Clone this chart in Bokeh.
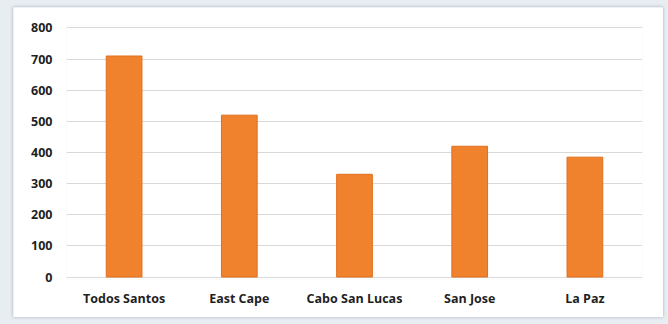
from bokeh.plotting import figure
from bokeh.models import Range1d, ColumnDataSource, FixedTicker
from bokeh.layouts import column
from bokeh.embed import file_html
from bokeh.resources import INLINE

categories = ["Todos Santos", "East Cape", "Cabo San Lucas", "San Jose", "La Paz"]
values = [710, 520, 330, 420, 385]
y_ticks = [0, 100, 200, 300, 400, 500, 600, 700, 800]

src = ColumnDataSource(dict(cat=categories, val=values))

p = figure(x_range=categories, y_range=Range1d(-8, 808), width=650, height=310,
           output_backend="svg", toolbar_location=None,
           min_border_left=53, min_border_right=21, min_border_top=18, min_border_bottom=38)
p.margin = (7, 5, 7, 13)
p.styles = {"box-shadow": "0 0 3px #a8b0b8"}

p.vbar(x="cat", top="val", width=0.31, source=src, fill_color="#f0822e",
       line_color="#e06f1d", line_width=1)

p.background_fill_color = "white"
p.border_fill_color = "white"
p.outline_line_color = None

p.yaxis.ticker = FixedTicker(ticks=y_ticks)
p.ygrid.ticker = FixedTicker(ticks=y_ticks)
p.ygrid.grid_line_color = "#d9d9d9"
p.ygrid.grid_line_width = 1
p.xgrid.grid_line_color = None

for ax in (p.xaxis, p.yaxis):
    ax.axis_line_color = None
    ax.major_tick_line_color = None
    ax.minor_tick_line_color = None
    ax.major_tick_out = 0
    ax.major_tick_in = 0
    ax.major_label_text_font = "Open Sans"
    ax.major_label_text_font_style = "bold"
    ax.major_label_text_color = "#1f1f1f"

p.yaxis.major_label_text_font_size = "12.5px"
p.yaxis.major_label_standoff = 14
p.xaxis.major_label_text_font_size = "12.5px"
p.xaxis.major_label_standoff = 10

layout = column(p, width=668, height=324, styles={"background-color": "#e8edf2"})

open("out.html", "w").write(file_html(layout, INLINE))
